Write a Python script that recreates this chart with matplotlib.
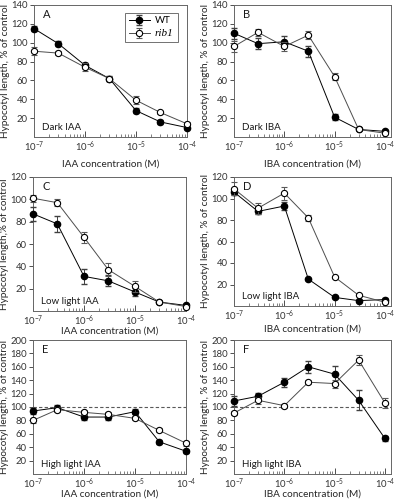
"""Hypocotyl length vs auxin concentration, six panels (WT vs rib1)."""

import matplotlib
matplotlib.use("Agg")
import matplotlib.pyplot as plt
from matplotlib.ticker import LogLocator, NullFormatter

plt.rcParams["font.family"] = ["Lato", "DejaVu Sans"]
plt.rcParams["mathtext.fontset"] = "custom"
plt.rcParams["mathtext.rm"] = "Lato"
plt.rcParams["mathtext.it"] = "Lato:italic"

conc = [1e-7, 3e-7, 1e-6, 3e-6, 1e-5, 3e-5, 1e-4]

# panel A: dark IAA
a_wt = [115, 99, 76, 62, 28, 16, 10]
a_wt_err = [3, 3, 3, 3, 3, 2, 2]
a_rib = [91, 89, 74, 62, 39, 26, 14]
a_rib_err = [4, 2, 4, 3, 4, 2, 2]

# panel B: dark IBA
b_wt = [110, 99, 101, 91, 21, 8, 6]
b_wt_err = [6, 6, 6, 6, 3, 1, 1]
b_rib = [96, 111, 96, 108, 64, 8, 4]
b_rib_err = [6, 4, 5, 4, 4, 1, 1]

# panel C: low light IAA
c_wt = [87, 78, 31, 27, 17, 8, 5]
c_wt_err = [6, 7, 7, 5, 4, 1, 1]
c_rib = [101, 97, 66, 37, 22, 8, 4]
c_rib_err = [3, 3, 5, 6, 5, 1, 1]

# panel D: low light IBA
d_wt = [106, 88, 93, 25, 8, 5, 6]
d_wt_err = [3, 2, 4, 1, 1, 1, 1]
d_rib = [109, 91, 105, 82, 27, 10, 3.5]
d_rib_err = [6, 5, 6, 3, 1, 1, 1]

# panel E: high light IAA
e_wt = [94, 99, 85, 85, 93, 48, 34]
e_wt_err = [4, 4, 4, 4, 4, 3, 2]
e_rib = [80, 96, 92, 89, 83, 65, 46]
e_rib_err = [4, 4, 4, 3, 3, 3, 4]

# panel F: high light IBA
f_wt = [109, 116, 137, 160, 149, 110, 53]
f_wt_err = [7, 5, 7, 9, 12, 15, 3]
f_rib = [91, 110, 102, 137, 135, 170, 106]
f_rib_err = [3, 5, 3, 3, 6, 7, 8]

W, H = 400, 499


def rect(left, top, right, bottom):
    return [left / W, 1 - bottom / H, (right - left) / W, (bottom - top) / H]


def panel(fig, box, wt, wt_err, rib, rib_err, letter, note, xlabel, ylabel,
          ymax, xmax, labelpad, dashed=False, legend=False):
    ax = fig.add_axes(rect(*box))
    if dashed:
        ax.axhline(100, color="0.35", lw=0.8, ls=(0, (3, 2)), zorder=1)
    ax.errorbar(conc, wt, yerr=wt_err, fmt="-o", color="black", mfc="black",
                mec="black", ms=4.5, lw=0.7, elinewidth=0.7, capsize=2.5,
                ecolor="0.25", label="WT", clip_on=False, zorder=3)
    ax.errorbar(conc, rib, yerr=rib_err, fmt="-o", color="0.3", mfc="white",
                mec="black", mew=0.8, ms=4.5, lw=0.7, elinewidth=0.7,
                capsize=2.5, ecolor="0.35", label="rib1", clip_on=False,
                zorder=4)
    ax.set_xscale("log")
    ax.set_xlim(1e-7, xmax)
    ax.set_ylim(0, ymax)
    ax.set_yticks(range(20, ymax + 1, 20))
    ax.xaxis.set_major_locator(LogLocator(base=10, numticks=10))
    ax.xaxis.set_minor_locator(LogLocator(base=10, subs=range(2, 10), numticks=10))
    ax.xaxis.set_minor_formatter(NullFormatter())
    ax.tick_params(axis="x", which="major", direction="in", length=4,
                   width=0.6, labelsize=6.8, pad=2, colors="0.2")
    ax.tick_params(axis="x", which="minor", direction="in", length=2,
                   width=0.5, colors="0.3")
    ax.tick_params(axis="y", direction="out", length=3, width=0.6,
                   labelsize=6.8, pad=1.5, colors="0.2")
    for s in ax.spines.values():
        s.set_linewidth(0.7)
        s.set_color("0.4")
    ax.set_xlabel(xlabel, fontsize=7.2, labelpad=labelpad, color="0.15")
    ax.set_ylabel(ylabel, fontsize=7.2, labelpad=1, color="0.15")
    ax.text(0.06, 0.97, letter, transform=ax.transAxes, fontsize=8,
            va="top", ha="left", color="0.1")
    ax.text(0.05, 0.04, note, transform=ax.transAxes, fontsize=7,
            va="bottom", ha="left", color="0.1")
    if legend:
        leg = ax.legend(loc="upper right", fontsize=7, frameon=True,
                        fancybox=False, edgecolor="0.3", handlelength=2.2,
                        borderpad=0.4, labelspacing=0.4, handletextpad=0.5,
                        bbox_to_anchor=(0.97, 0.98))
        leg.get_frame().set_linewidth(0.7)
        leg.get_texts()[1].set_fontfamily("Liberation Serif")
        leg.get_texts()[1].set_fontstyle("italic")
        leg.get_texts()[1].set_fontsize(8)
    return ax


fig = plt.figure(figsize=(4.0, 4.99), dpi=100)
ylab = "Hypocotyl length, % of control"

panel(fig, (34, 5, 187, 137), a_wt, a_wt_err, a_rib, a_rib_err, "A",
      "Dark IAA", "IAA concentration (M)", ylab, 140, 1e-4, 4, legend=True)
panel(fig, (234, 5, 391, 137), b_wt, b_wt_err, b_rib, b_rib_err, "B",
      "Dark IBA", "IBA concentration (M)", ylab, 140, 1.32e-4, 4)
panel(fig, (33, 177, 186, 311), c_wt, c_wt_err, c_rib, c_rib_err, "C",
      "Low light IAA", "IAA concentration (M)",
      "Hypocotyl length,% of control", 120, 1e-4, -1)
panel(fig, (234, 177, 391, 306), d_wt, d_wt_err, d_rib, d_rib_err, "D",
      "Low light IBA", "IBA concentration (M)", ylab, 120, 1.32e-4, 1)
panel(fig, (33, 340, 186, 474), e_wt, e_wt_err, e_rib, e_rib_err, "E",
      "High light IAA", "IAA concentration (M)", ylab, 200, 1e-4, -1,
      dashed=True)
panel(fig, (234, 340, 391, 474), f_wt, f_wt_err, f_rib, f_rib_err, "F",
      "High light IBA", "IBA concentration (M)", ylab, 200, 1.32e-4, -1,
      dashed=True)

fig.savefig("out.png", dpi=100)
plt.close(fig)
